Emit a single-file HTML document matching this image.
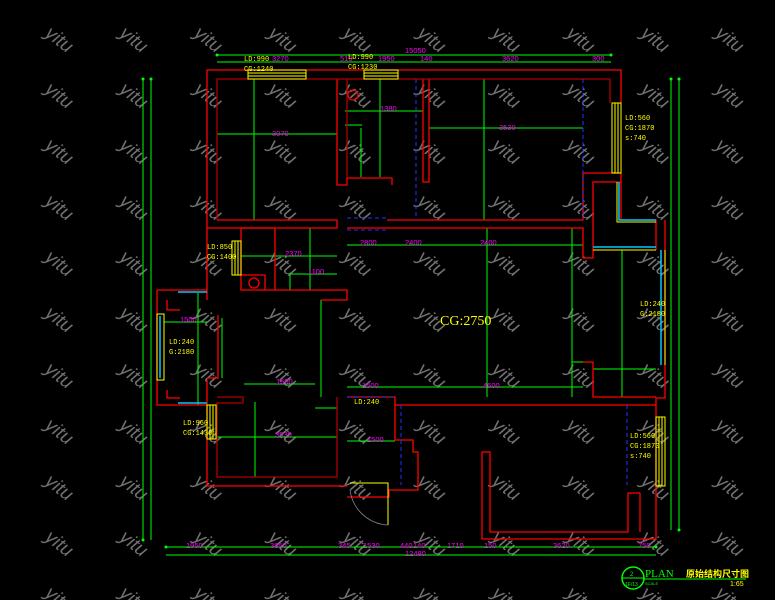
<!DOCTYPE html>
<html><head><meta charset="utf-8"><style>
html,body{margin:0;padding:0;background:#000;width:775px;height:600px;overflow:hidden}
svg{display:block}
.r{stroke:#ff0000;fill:none;stroke-width:1.3}
.rd{stroke:#b00000;fill:none;stroke-width:1.3}
.g{stroke:#00ff00;fill:none;stroke-width:1}
.y{stroke:#ffff00;fill:none;stroke-width:1}
.c{stroke:#00c8ff;fill:none;stroke-width:1.5}
.b{stroke:#2233ff;fill:none;stroke-width:1;stroke-dasharray:4 3}
.m{fill:#ff00ff;font:7.5px "Liberation Sans",sans-serif}
.t{fill:#ffff00;font:7px "Liberation Mono",monospace}
.wm{fill:#707070;font:italic 19px "Liberation Sans",sans-serif}
</style></head><body>
<svg width="775" height="600" viewBox="0 0 775 600" xmlns="http://www.w3.org/2000/svg">
<defs>
<pattern id="wm" x="23" y="13" width="74.5" height="56" patternUnits="userSpaceOnUse">
<text class="wm" transform="translate(38,28) rotate(38)" x="-17" y="6">yitu</text>
</pattern>
</defs>
<rect width="775" height="600" fill="#000"/>
<rect x="0" y="0" width="775" height="600" fill="url(#wm)"/>

<g class="g">
<line x1="217" y1="55" x2="611" y2="55"/><line x1="217" y1="62" x2="611" y2="62"/>
<line x1="143" y1="79" x2="143" y2="540"/><line x1="151" y1="79" x2="151" y2="540"/>
<line x1="671" y1="79" x2="671" y2="530"/><line x1="679" y1="79" x2="679" y2="530"/>
<line x1="166" y1="547" x2="656" y2="547"/><line x1="166" y1="555" x2="656" y2="555"/>
<line x1="217" y1="134" x2="337" y2="134"/><line x1="254" y1="79" x2="254" y2="220"/>
<line x1="345" y1="111" x2="423" y2="111"/><line x1="380" y1="79" x2="380" y2="177"/>
<line x1="345" y1="125" x2="362" y2="125"/><line x1="361" y1="128" x2="361" y2="177"/>
<line x1="429" y1="128" x2="583" y2="128"/><line x1="484" y1="79" x2="484" y2="220"/>
<line x1="347" y1="245" x2="583" y2="245"/><line x1="487" y1="228" x2="487" y2="397"/>
<line x1="572" y1="228" x2="572" y2="397"/><line x1="572" y1="362" x2="583" y2="362"/>
<line x1="241" y1="256" x2="337" y2="256"/><line x1="310" y1="228" x2="310" y2="290"/>
<line x1="290" y1="274" x2="337" y2="274"/><line x1="290" y1="274" x2="290" y2="290"/>
<line x1="622" y1="250" x2="622" y2="397"/><line x1="593" y1="369" x2="656" y2="369"/>
<line x1="347" y1="387" x2="583" y2="387"/><line x1="347" y1="441" x2="395" y2="441"/>
<line x1="164" y1="322" x2="207" y2="322"/><line x1="198" y1="293" x2="198" y2="405"/>
<line x1="222" y1="318" x2="222" y2="378"/><line x1="321" y1="300" x2="321" y2="397"/>
<line x1="244" y1="384" x2="315" y2="384"/><line x1="217" y1="437" x2="337" y2="437"/>
<line x1="255" y1="402" x2="255" y2="477"/><line x1="315" y1="408" x2="337" y2="408"/>
</g>
<g fill="#00ff00">
<circle cx="217" cy="55" r="1.5"/><circle cx="611" cy="55" r="1.5"/><circle cx="143" cy="79" r="1.5"/><circle cx="151" cy="79" r="1.5"/><circle cx="671" cy="79" r="1.5"/><circle cx="679" cy="79" r="1.5"/><circle cx="166" cy="547" r="1.5"/><circle cx="656" cy="547" r="1.5"/><circle cx="143" cy="540" r="1.5"/><circle cx="679" cy="530" r="1.5"/>
</g>

<g class="r">
<path d="M207 290 V70 H621 V103"/>
<path d="M207 228 H275 V290"/>
<path d="M387 220 H583 V173 H621 V220 H656 V250"/>
<path d="M337 79 V185 H347 V178 H392 V185"/>
<path d="M423 79 V182 H429 V79"/>
<path d="M665 220 V398 H656 V405 H395 V397 H347"/>
<path d="M583 362 H593 V397 H656"/>
<path d="M656 405 V539 H482 V452 H490 V532 H628 V493 H640"/>
<path d="M640 493 V532"/>
<path d="M395 405 V440 H413 V452 H418 V490 H389 V497 H347"/>
<path d="M207 380 V486 H347"/>
<path d="M157 290 H207 V300 M157 290 V405 H207"/>
<path d="M167 300 V310 H180 M167 390 V398 H180"/>
<path d="M218 315 V378 H207"/>
<path d="M241 275 H265 V290"/>
<path d="M217 220 H337 V228 H241 V290 H347 V300 H321"/>
<path d="M347 228 H583 V258 H593 V182 H621"/>
</g>
<g class="rd">
<path d="M217 220 V79 H610 V103"/>
<path d="M347 79 V178"/>
<path d="M217 397 H243 V403 H217 V477 H337 V397"/>
</g>
<circle cx="254" cy="283" r="5" class="r"/>
<circle cx="353" cy="95" r="5" class="r"/>
<g class="b">
<line x1="347" y1="218" x2="387" y2="218"/><line x1="347" y1="230" x2="387" y2="230"/>
<line x1="416" y1="79" x2="416" y2="220"/><line x1="583" y1="79" x2="583" y2="220"/>
<line x1="347" y1="397" x2="395" y2="397"/><line x1="401" y1="405" x2="401" y2="485"/>
<line x1="627" y1="405" x2="627" y2="485"/>
</g>
<g class="y">
<rect x="248" y="70" width="58" height="9"/><line x1="248" y1="73" x2="306" y2="73"/><line x1="248" y1="76" x2="306" y2="76"/>
<rect x="364" y="70" width="34" height="9"/><line x1="364" y1="73" x2="398" y2="73"/><line x1="364" y1="76" x2="398" y2="76"/>
<rect x="612" y="103" width="9" height="70"/><line x1="615" y1="103" x2="615" y2="173"/><line x1="618" y1="103" x2="618" y2="173"/>
<rect x="232" y="241" width="9" height="34"/><line x1="235" y1="241" x2="235" y2="275"/><line x1="238" y1="241" x2="238" y2="275"/>
<rect x="157" y="314" width="7" height="66"/>
<rect x="207" y="405" width="9" height="34"/><line x1="210" y1="405" x2="210" y2="439"/><line x1="213" y1="405" x2="213" y2="439"/>
<rect x="656" y="417" width="9" height="69"/><line x1="659" y1="417" x2="659" y2="486"/><line x1="662" y1="417" x2="662" y2="486"/>
<path d="M617 182 V222 H656"/><path d="M593 250 H656"/><path d="M665 250 V365"/>
<path d="M350 483 H388 V525"/>
</g>
<g class="c">
<path d="M619 182 V220 H656"/><path d="M593 247 H656"/><line x1="661" y1="250" x2="661" y2="365"/>
<line x1="160" y1="316" x2="160" y2="378"/><line x1="178" y1="292" x2="207" y2="292"/><line x1="178" y1="403" x2="207" y2="403"/>
</g>
<path d="M388 525 A40 40 0 0 1 350 490" stroke="#888" fill="none" stroke-width="0.8"/>

<g class="m">
<text x="405" y="53">15050</text><text x="272" y="61">3270</text><text x="340" y="61">510</text><text x="378" y="61">1950</text><text x="420" y="61">140</text><text x="502" y="61">3620</text><text x="592" y="61">300</text>
<text x="272" y="136">3070</text><text x="380" y="111">1380</text><text x="499" y="130">3530</text><text x="405" y="245">2400</text><text x="480" y="245">2400</text>
<text x="285" y="256">2370</text><text x="308" y="274">1100</text><text x="360" y="245">2800</text><text x="483" y="388">4600</text>
<text x="362" y="388">1500</text><text x="367" y="442">1500</text><text x="276" y="384">1500</text><text x="275" y="437">3530</text>
<text x="180" y="322">1500</text><text x="186" y="548">1950</text><text x="270" y="548">3850</text><text x="338" y="548">345</text><text x="363" y="548">1530</text><text x="400" y="548">440</text><text x="413" y="548">140</text><text x="447" y="548">1710</text><text x="484" y="548">150</text><text x="553" y="548">3620</text><text x="638" y="548">750</text><text x="405" y="556">12480</text>
</g>
<g class="t">
<text x="244" y="61">LD:990</text><text x="244" y="71">CG:1240</text>
<text x="348" y="59">LD:990</text><text x="348" y="69">CG:1230</text>
<text x="625" y="120">LD:560</text><text x="625" y="130">CG:1870</text><text x="625" y="140">s:740</text>
<text x="207" y="249">LD:850</text><text x="207" y="259">CG:1400</text>
<text x="169" y="344">LD:240</text><text x="169" y="354">G:2180</text>
<text x="640" y="306">LD:240</text><text x="640" y="316">G:2180</text>
<text x="183" y="425">LD:960</text><text x="183" y="435">CG:1430</text>
<text x="354" y="404">LD:240</text>
<text x="630" y="438">LD:560</text><text x="630" y="448">CG:1870</text><text x="630" y="458">s:740</text>
</g>
<text x="440" y="325" fill="#ffff00" font-family="Liberation Serif,serif" font-size="14">CG:2750</text>

<circle cx="633" cy="578" r="11" stroke="#00ff00" fill="none" stroke-width="1.5"/>
<line x1="622" y1="578" x2="644" y2="578" stroke="#00ff00"/>
<text x="630" y="576" fill="#00ff00" font-size="6" font-family="Liberation Sans,sans-serif">2</text>
<text x="625" y="586" fill="#00ff00" font-size="5" font-family="Liberation Sans,sans-serif">1F/13</text>
<text x="645" y="577" fill="#00ff00" font-size="11" font-family="Liberation Serif,serif">PLAN</text>
<text x="645" y="585" fill="#00ff00" font-size="4" font-family="Liberation Sans,sans-serif">SCALE</text>
<line x1="644" y1="579" x2="746" y2="579" stroke="#00ff00"/>
<text x="686" y="577" fill="#ffff00" font-size="9" font-weight="bold" font-family="Liberation Sans,'Noto Sans CJK SC',sans-serif">原始结构尺寸图</text>
<text x="730" y="586" fill="#ffff00" font-size="7" font-family="Liberation Sans,sans-serif">1:65</text>
</svg>
</body></html>
